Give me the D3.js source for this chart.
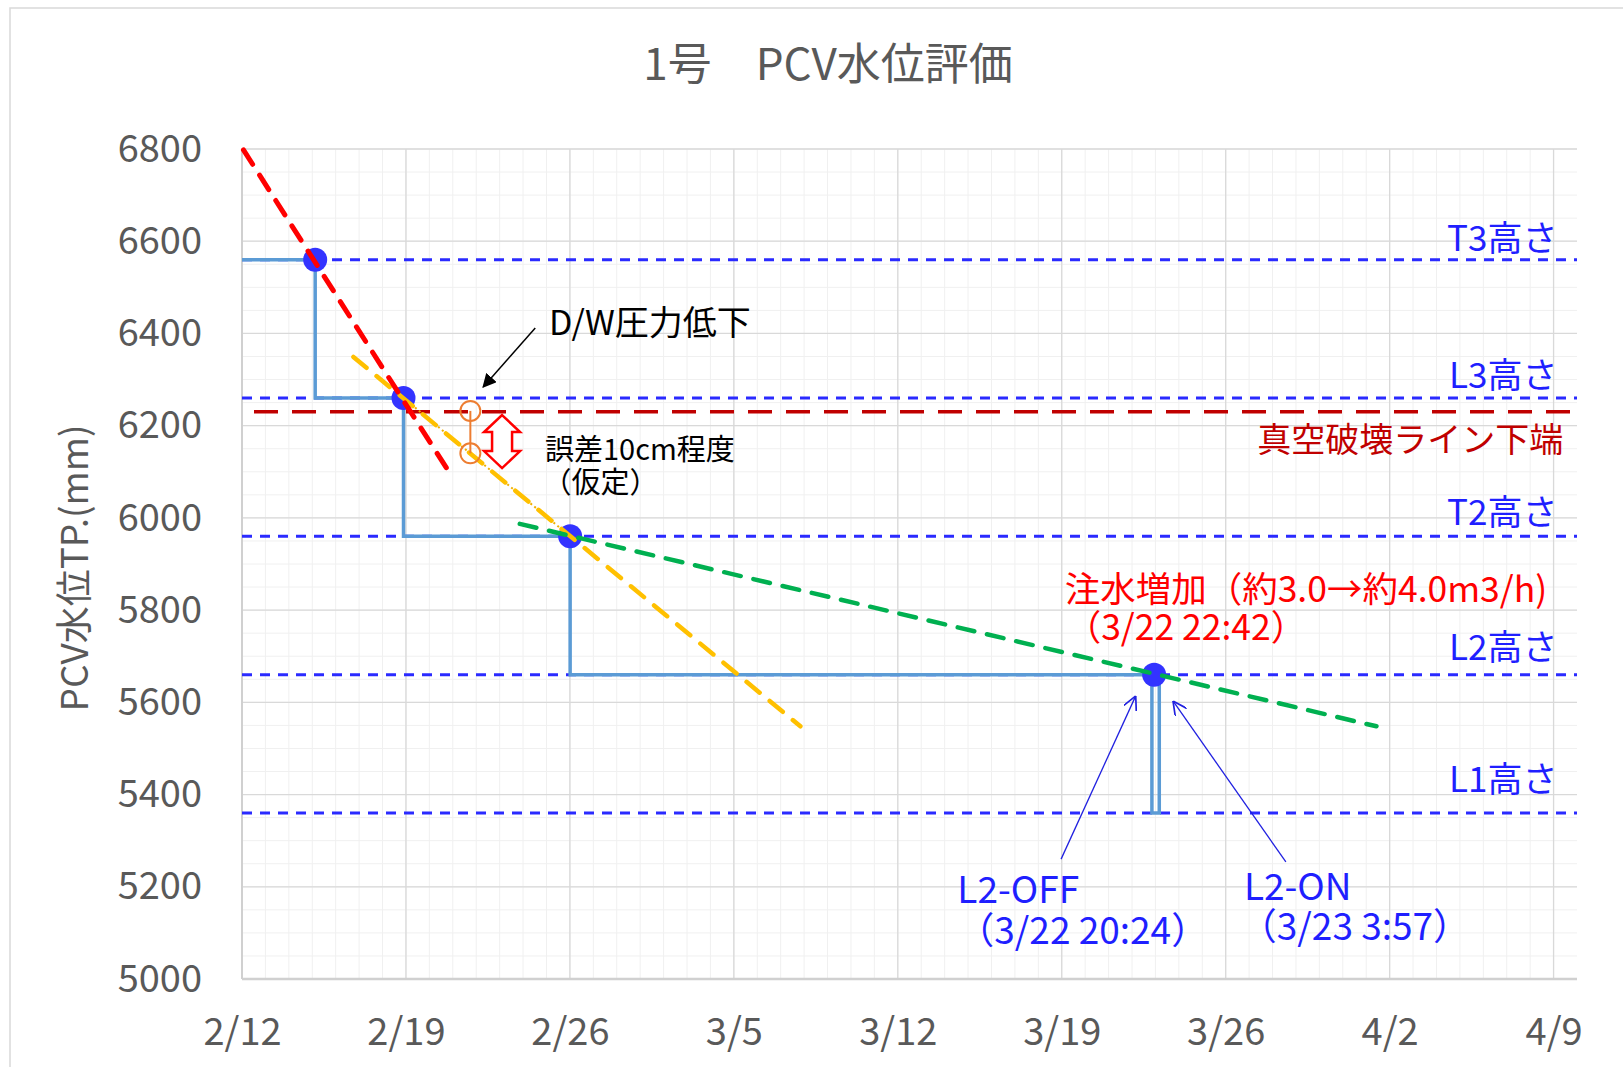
<!DOCTYPE html>
<html>
<head>
<meta charset="utf-8">
<script type="text/javascript" src="https://d3js.org/d3.v7.min.js"></script>
<style>
  body { margin: 0; background: #ffffff; }
  svg text { font-family: "Noto Sans CJK JP", "Noto Sans", sans-serif; }
</style>
</head>
<body>
<div id="chart"></div>
<script type="text/javascript">
    // ---- data ----
    const parse = d3.timeParse("%Y-%m-%d %H:%M");

    // measured level (step line), dates with times
    const stepDates  = ["2023-02-12 00:00", "2023-02-15 03:00", "2023-02-18 21:30", "2023-02-26 00:15", "2023-03-22 20:24", "2023-03-23 03:57"];
    const stepValues = [6560, 6260, 5960, 5660, 5360, 5660];

    // blue points
    const dotDates  = ["2023-02-15 03:00", "2023-02-18 21:30", "2023-02-26 00:15", "2023-03-22 22:42"];
    const dotValues = [6560, 6260, 5960, 5660];

    // horizontal reference levels
    const levelNames  = ["T3高さ", "L3高さ", "T2高さ", "L2高さ", "L1高さ"];
    const levelValues = [6560, 6260, 5960, 5660, 5360];
    const levelLabelValues = [6612, 6316, 6019, 5726, 5440];
    const vacuumValue = 6230;
    const vacuumLabel = "真空破壊ライン下端";
    const vacuumLabelValue = 6175;

    // trend lines
    const redTrendDates    = ["2023-02-12 01:30", "2023-02-20 21:30"];
    const redTrendValues   = [6798, 6095];
    const orangeTrendDates  = ["2023-02-16 18:10", "2023-03-07 20:10"];
    const orangeTrendValues = [6349, 5548];
    const greenTrendDates  = ["2023-02-23 20:40", "2023-04-01 10:30"];
    const greenTrendValues = [5987, 5548];

    // error marker (two hollow circles)
    const errDate = "2023-02-21 18:00";
    const errValues = [6232, 6140];
    const errArrowDate = "2023-02-23 02:30";
    const errArrowValues = [6223, 6108];

    // axes
    const xStart = "2023-02-12 00:00", xEnd = "2023-04-10 00:00";
    const yMin = 5000, yMax = 6800;

    const title = "1号　PCV水位評価";
    const yTitle = "PCV水位TP.(mm)";

    // ---- layout ----
    const W = 1623, H = 1067;
    const plot = {left: 242, right: 1577, top: 149, bottom: 979};

    const svg = d3.select("#chart").append("svg")
        .attr("width", W).attr("height", H);

    svg.append("rect").attr("x", 10).attr("y", 8).attr("width", 1700).attr("height", 1200)
        .attr("fill", "#ffffff").attr("stroke", "#d9d9d9").attr("stroke-width", 1.5);

    const x = d3.scaleTime().domain([parse(xStart), parse(xEnd)]).range([plot.left, plot.right]);
    const y = d3.scaleLinear().domain([yMin, yMax]).range([plot.bottom, plot.top]);

    const defs = svg.append("defs");
    defs.append("marker").attr("id", "blackHead")
        .attr("viewBox", "0 0 10 10").attr("refX", 9).attr("refY", 5)
        .attr("markerWidth", 14).attr("markerHeight", 14).attr("markerUnits", "userSpaceOnUse")
        .attr("orient", "auto")
        .append("path").attr("d", "M0,0 L10,5 L0,10 Z").attr("fill", "#000");
    defs.append("marker").attr("id", "blueHead")
        .attr("viewBox", "0 0 10 10").attr("refX", 10).attr("refY", 5)
        .attr("markerWidth", 14).attr("markerHeight", 14).attr("markerUnits", "userSpaceOnUse")
        .attr("orient", "auto")
        .append("path").attr("d", "M0,0 L10,5 L0,10").attr("fill", "none")
        .attr("stroke", "#2020e0").attr("stroke-width", 1.2);

    // grid
    const grid = svg.append("g");
    grid.selectAll("line.vmin").data(d3.timeDay.range(parse(xStart), parse(xEnd)))
        .enter().append("line")
        .attr("x1", d => x(d)).attr("x2", d => x(d))
        .attr("y1", plot.top).attr("y2", plot.bottom)
        .attr("stroke", "#f0f0f0").attr("stroke-width", 1);
    grid.selectAll("line.hmin").data(d3.range(yMin, yMax + 1, 50))
        .enter().append("line")
        .attr("x1", plot.left).attr("x2", plot.right)
        .attr("y1", d => y(d)).attr("y2", d => y(d))
        .attr("stroke", "#f0f0f0").attr("stroke-width", 1);
    grid.selectAll("line.vmaj").data(x.ticks(d3.timeWeek.every(1)))
        .enter().append("line")
        .attr("x1", d => x(d)).attr("x2", d => x(d))
        .attr("y1", plot.top).attr("y2", plot.bottom)
        .attr("stroke", "#d9d9d9").attr("stroke-width", 1.3);
    grid.selectAll("line.hmaj").data(d3.range(yMin, yMax + 1, 200))
        .enter().append("line")
        .attr("x1", plot.left).attr("x2", plot.right)
        .attr("y1", d => y(d)).attr("y2", d => y(d))
        .attr("stroke", "#d9d9d9").attr("stroke-width", 1.3);
    grid.append("line").attr("x1", plot.left).attr("x2", plot.left)
        .attr("y1", plot.top).attr("y2", plot.bottom)
        .attr("stroke", "#d0d0d0").attr("stroke-width", 2);
    grid.append("line").attr("x1", plot.left).attr("x2", plot.right)
        .attr("y1", plot.bottom).attr("y2", plot.bottom)
        .attr("stroke", "#d0d0d0").attr("stroke-width", 2.5);

    // axes
    const xAxis = svg.append("g").attr("transform", `translate(0,${plot.bottom})`)
        .call(d3.axisBottom(x).ticks(d3.timeWeek.every(1)).tickFormat(d3.timeFormat("%-m/%-d"))
            .tickSize(0).tickPadding(39));
    xAxis.select(".domain").remove();
    xAxis.selectAll("text").attr("font-size", 38).attr("fill", "#595959");

    const yAxis = svg.append("g").attr("transform", `translate(${plot.left},0)`)
        .call(d3.axisLeft(y).tickValues(d3.range(yMin, yMax + 1, 200)).tickFormat(d3.format("d"))
            .tickSize(0).tickPadding(40));
    yAxis.select(".domain").remove();
    yAxis.selectAll("text").attr("font-size", 38).attr("fill", "#595959");

    svg.append("text")
        .attr("transform", `translate(72,${(plot.top + plot.bottom) / 2 + 4}) rotate(-90)`)
        .attr("text-anchor", "middle").attr("dominant-baseline", "central")
        .attr("font-size", 37).attr("fill", "#595959").text(yTitle);

    svg.append("text").attr("x", 828).attr("y", 61)
        .attr("text-anchor", "middle").attr("dominant-baseline", "central")
        .attr("font-size", 44).attr("fill", "#595959").text(title);

    // reference levels
    svg.selectAll("line.level").data(levelValues).enter().append("line")
        .attr("x1", plot.left).attr("x2", plot.right)
        .attr("y1", d => y(d)).attr("y2", d => y(d))
        .attr("stroke", "#2a2aff").attr("stroke-width", 3)
        .attr("stroke-dasharray", "10,8");
    svg.selectAll("text.level").data(levelNames).enter().append("text")
        .attr("x", x(parse("2023-04-09 04:00")))
        .attr("y", (d, i) => y(levelLabelValues[i]))
        .attr("text-anchor", "end").attr("dominant-baseline", "central")
        .attr("font-size", 35).attr("fill", "#1f1fff").text(d => d);

    svg.append("line").attr("x1", plot.left + 12).attr("x2", plot.right)
        .attr("y1", y(vacuumValue)).attr("y2", y(vacuumValue))
        .attr("stroke", "#c00000").attr("stroke-width", 3.5)
        .attr("stroke-dasharray", "24,14");
    svg.append("text").attr("x", x(parse("2023-04-09 10:00")))
        .attr("y", y(vacuumLabelValue))
        .attr("text-anchor", "end").attr("dominant-baseline", "central")
        .attr("font-size", 34).attr("fill", "#c00000").text(vacuumLabel);

    // step line
    const stepData = stepDates.map((d, i) => ({date: parse(d), value: stepValues[i]}));
    const stepLine = d3.line().x(d => x(d.date)).y(d => y(d.value)).curve(d3.curveStepAfter);
    svg.append("path").datum(stepData).attr("d", stepLine)
        .attr("fill", "none").attr("stroke", "#5b9bd5").attr("stroke-width", 3.5);

    // blue points
    svg.selectAll("circle.dot").data(dotDates).enter().append("circle")
        .attr("cx", d => x(parse(d))).attr("cy", (d, i) => y(dotValues[i]))
        .attr("r", 12).attr("fill", "#3333ff");

    // trend lines
    const seg = d3.line().x(d => x(d[0])).y(d => y(d[1]));
    const pairs = (ds, vs) => ds.map((d, i) => [parse(d), vs[i]]);

    svg.append("path").datum(pairs([dotDates[1], dotDates[2]], [dotValues[1], dotValues[2]]))
        .attr("d", seg).attr("fill", "none").attr("stroke", "#f0b000")
        .attr("stroke-width", 2).attr("stroke-dasharray", "2,3");
    svg.append("path").datum(pairs(orangeTrendDates, orangeTrendValues))
        .attr("d", seg).attr("fill", "none").attr("stroke", "#ffc000")
        .attr("stroke-width", 4.5).attr("stroke-dasharray", "17,13").attr("stroke-linecap", "round");
    svg.append("path").datum(pairs(greenTrendDates, greenTrendValues))
        .attr("d", seg).attr("fill", "none").attr("stroke", "#00b050")
        .attr("stroke-width", 4.5).attr("stroke-dasharray", "17,13").attr("stroke-linecap", "round");
    svg.append("path").datum(pairs(redTrendDates, redTrendValues))
        .attr("d", seg).attr("fill", "none").attr("stroke", "#ff0000")
        .attr("stroke-width", 5).attr("stroke-dasharray", "17,13").attr("stroke-linecap", "round");

    // error marker
    const ex = x(parse(errDate));
    svg.append("line").attr("x1", ex).attr("x2", ex)
        .attr("y1", y(errValues[0])).attr("y2", y(errValues[1]))
        .attr("stroke", "#ed7d31").attr("stroke-width", 2);
    svg.selectAll("circle.err").data(errValues).enter().append("circle")
        .attr("cx", ex).attr("cy", d => y(d)).attr("r", 10)
        .attr("fill", "none").attr("stroke", "#ed7d31").attr("stroke-width", 2);

    // red double block arrow
    const ax = x(parse(errArrowDate)), at = y(errArrowValues[0]), ab = y(errArrowValues[1]);
    const hw = 18, sw = 10, hh = 17;
    svg.append("path")
        .attr("d", `M${ax},${at} L${ax + hw},${at + hh} L${ax + sw},${at + hh} L${ax + sw},${ab - hh}
            L${ax + hw},${ab - hh} L${ax},${ab} L${ax - hw},${ab - hh} L${ax - sw},${ab - hh}
            L${ax - sw},${at + hh} L${ax - hw},${at + hh} Z`)
        .attr("fill", "#ffffff").attr("stroke", "#ff0000").attr("stroke-width", 2.5)
        .attr("stroke-linejoin", "miter");

    // annotations
    svg.append("line")
        .attr("x1", x(parse("2023-02-24 12:30"))).attr("y1", y(6412))
        .attr("x2", x(parse("2023-02-22 07:10"))).attr("y2", y(6284))
        .attr("stroke", "#000").attr("stroke-width", 1.5).attr("marker-end", "url(#blackHead)");
    svg.append("text").attr("x", x(parse("2023-02-25 02:30"))).attr("y", y(6427))
        .attr("dominant-baseline", "central").attr("font-size", 34).attr("fill", "#000")
        .text("D/W圧力低下");
    svg.append("text").attr("x", x(parse("2023-02-24 22:30"))).attr("y", y(6154))
        .attr("dominant-baseline", "central").attr("font-size", 29).attr("fill", "#000")
        .text("誤差10cm程度");
    svg.append("text").attr("x", x(parse("2023-02-24 20:00"))).attr("y", y(6083))
        .attr("dominant-baseline", "central").attr("font-size", 29).attr("fill", "#000")
        .text("（仮定）");

    svg.append("text").attr("x", x(parse("2023-03-19 03:00"))).attr("y", y(5852))
        .attr("dominant-baseline", "central").attr("font-size", 35.5).attr("fill", "#ff0000")
        .text("注水増加（約3.0→約4.0m3/h)");
    svg.append("text").attr("x", x(parse("2023-03-19 04:00"))).attr("y", y(5768))
        .attr("dominant-baseline", "central").attr("font-size", 35.5).attr("fill", "#ff0000")
        .text("（3/22 22:42）");

    svg.append("line")
        .attr("x1", x(parse("2023-03-18 23:20"))).attr("y1", y(5260))
        .attr("x2", x(parse("2023-03-22 03:50"))).attr("y2", y(5614))
        .attr("stroke", "#2020e0").attr("stroke-width", 1.3).attr("marker-end", "url(#blueHead)");
    svg.append("line")
        .attr("x1", x(parse("2023-03-28 13:40"))).attr("y1", y(5254))
        .attr("x2", x(parse("2023-03-23 18:00"))).attr("y2", y(5603))
        .attr("stroke", "#2020e0").attr("stroke-width", 1.3).attr("marker-end", "url(#blueHead)");

    svg.append("text").attr("x", x(parse("2023-03-14 13:00"))).attr("y", y(5199))
        .attr("dominant-baseline", "central").attr("font-size", 37).attr("fill", "#1f1fff")
        .text("L2-OFF");
    svg.append("text").attr("x", x(parse("2023-03-14 13:00"))).attr("y", y(5111))
        .attr("dominant-baseline", "central").attr("font-size", 37).attr("fill", "#1f1fff")
        .text("（3/22 20:24）");
    svg.append("text").attr("x", x(parse("2023-03-26 18:40"))).attr("y", y(5206))
        .attr("dominant-baseline", "central").attr("font-size", 37).attr("fill", "#1f1fff")
        .text("L2-ON");
    svg.append("text").attr("x", x(parse("2023-03-26 14:30"))).attr("y", y(5119))
        .attr("dominant-baseline", "central").attr("font-size", 37).attr("fill", "#1f1fff")
        .text("（3/23 3:57）");
</script>
</body>
</html>
